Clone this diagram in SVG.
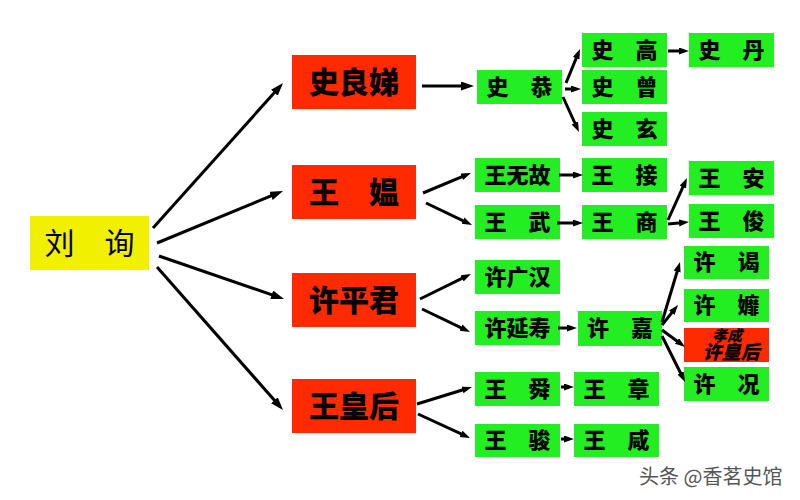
<svg xmlns="http://www.w3.org/2000/svg" width="800" height="500" viewBox="0 0 800 500">
<defs>
<style>
.root rect{fill:#F0F000}
.red rect{fill:#FF2A00}
.grn rect{fill:#22EE22}
text{font-family:"Noto Sans CJK SC","Noto Sans CJK JP",sans-serif;text-anchor:middle;fill:#000}
.root text{font-size:30px;font-weight:400}
.red text{font-size:30px;font-weight:900}
.grn text{font-size:22px;font-weight:900}
.conn line{stroke:#000;stroke-width:3;fill:none}
.big{marker-end:url(#ah)}
.sm{marker-end:url(#as)}
.wm{font-size:20px;fill:#555;font-weight:400;text-anchor:start}
</style>
<marker id="ah" markerUnits="userSpaceOnUse" markerWidth="14" markerHeight="10" refX="8" refY="4.5" orient="auto"><path d="M0,0 L13,4.5 L0,9 z" fill="#000"/></marker>
<marker id="as" markerUnits="userSpaceOnUse" markerWidth="11" markerHeight="8" refX="5" refY="3.5" orient="auto"><path d="M0,0 L10,3.5 L0,7 z" fill="#000"/></marker>
</defs>
<rect width="800" height="500" fill="#fff"/>

<g id="liuxun" class="root"><rect x="30" y="216" width="119" height="54"/><text x="89.5" y="254">刘　询</text></g>

<g id="shiliangdi" class="red"><rect x="292" y="55" width="124" height="54"/><text x="354" y="93">史良娣</text></g>
<g id="wangwen" class="red"><rect x="292" y="165" width="124" height="54"/><text x="354" y="203">王　媪</text></g>
<g id="xupingjun" class="red"><rect x="292" y="273" width="124" height="54"/><text x="354" y="311">许平君</text></g>
<g id="wanghuanghou" class="red"><rect x="292" y="379" width="124" height="54"/><text x="354" y="417">王皇后</text></g>

<g id="shigong" class="grn"><rect x="477" y="70" width="85" height="34"/><text x="519.5" y="95">史　恭</text></g>
<g id="shigao" class="grn"><rect x="582" y="33" width="85" height="34"/><text x="624.5" y="58">史　高</text></g>
<g id="shidan" class="grn"><rect x="689" y="33" width="85" height="34"/><text x="731.5" y="58">史　丹</text></g>
<g id="shizeng" class="grn"><rect x="582" y="70" width="85" height="34"/><text x="624.5" y="95">史　曾</text></g>
<g id="shixuan" class="grn"><rect x="582" y="112" width="85" height="34"/><text x="624.5" y="137">史　玄</text></g>

<g id="wangwugu" class="grn"><rect x="475" y="158" width="85" height="34"/><text x="517.5" y="183">王无故</text></g>
<g id="wangjie" class="grn"><rect x="582" y="158" width="85" height="34"/><text x="624.5" y="183">王　接</text></g>
<g id="wangan" class="grn"><rect x="689" y="161" width="85" height="34"/><text x="731.5" y="186">王　安</text></g>
<g id="wangwu" class="grn"><rect x="475" y="205" width="85" height="34"/><text x="517.5" y="230">王　武</text></g>
<g id="wangshang" class="grn"><rect x="582" y="205" width="85" height="34"/><text x="624.5" y="230">王　商</text></g>
<g id="wangjun" class="grn"><rect x="689" y="204" width="85" height="34"/><text x="731.5" y="229">王　俊</text></g>

<g id="xuguanghan" class="grn"><rect x="475" y="260" width="85" height="34"/><text x="517.5" y="285">许广汉</text></g>
<g id="xuyanshou" class="grn"><rect x="475" y="311" width="85" height="34"/><text x="517.5" y="336">许延寿</text></g>
<g id="xujia" class="grn"><rect x="578" y="311" width="84" height="35"/><text x="620" y="336">许　嘉</text></g>
<g id="xuye" class="grn"><rect x="684" y="246" width="85" height="33"/><text x="726.5" y="270">许　谒</text></g>
<g id="xumi" class="grn"><rect x="684" y="289" width="85" height="33"/><text x="726.5" y="313">许　孊</text></g>
<g id="xiaocheng" class="red"><rect x="684" y="328" width="85" height="34"/><text style="font-style:italic;font-weight:900"><tspan x="727" y="341" style="font-size:15px">孝成</tspan><tspan x="731" y="359" style="font-size:19px">许皇后</tspan></text></g>
<g id="xukuang" class="grn"><rect x="684" y="367" width="85" height="34"/><text x="726.5" y="392">许　况</text></g>

<g id="wangshun" class="grn"><rect x="475" y="372" width="85" height="34"/><text x="517.5" y="397">王　舜</text></g>
<g id="wangzhang" class="grn"><rect x="574" y="372" width="85" height="34"/><text x="616.5" y="397">王　章</text></g>
<g id="wangjun2" class="grn"><rect x="475" y="424" width="85" height="33"/><text x="517.5" y="448">王　骏</text></g>
<g id="wangxian" class="grn"><rect x="574" y="424" width="85" height="33"/><text x="616.5" y="448">王　咸</text></g>

<g id="connectors" class="conn">
<line class="big" x1="153" y1="228" x2="279.7" y2="86.7"/>
<line class="big" x1="157" y1="243" x2="278.4" y2="192.9"/>
<line class="big" x1="159" y1="256" x2="279.3" y2="297.4"/>
<line class="big" x1="157" y1="267" x2="279.7" y2="406.3"/>
<line class="big" x1="422" y1="86" x2="469" y2="86"/>
<line class="sm" x1="566" y1="83" x2="578.1" y2="53.6"/>
<line class="sm" x1="565" y1="89" x2="576" y2="89"/>
<line class="sm" x1="563" y1="97" x2="576.9" y2="127.5"/>
<line class="sm" x1="668" y1="51" x2="684" y2="51"/>
<line class="sm" x1="423" y1="193" x2="466.4" y2="174.9"/>
<line class="sm" x1="426" y1="203" x2="467.5" y2="222.8"/>
<line class="sm" x1="559" y1="175" x2="578" y2="175"/>
<line class="sm" x1="557" y1="223" x2="578" y2="223"/>
<line class="sm" x1="668" y1="220" x2="684.9" y2="182.6"/>
<line class="sm" x1="668" y1="224" x2="684" y2="222.5"/>
<line class="sm" x1="420" y1="299" x2="466.5" y2="276.2"/>
<line class="sm" x1="422" y1="309" x2="465.5" y2="329.8"/>
<line class="sm" x1="558" y1="328" x2="572" y2="328"/>
<line class="sm" x1="662" y1="322" x2="678.6" y2="266.8"/>
<line class="sm" x1="662" y1="325" x2="674.9" y2="308.9"/>
<line class="sm" x1="662" y1="330" x2="681" y2="344"/>
<line class="sm" x1="662" y1="336" x2="682.8" y2="377.5"/>
<line class="sm" x1="417" y1="404" x2="467.2" y2="388.5"/>
<line class="sm" x1="418" y1="414" x2="465.5" y2="435.9"/>
<line class="sm" x1="561" y1="387" x2="569" y2="387"/>
<line class="sm" x1="561" y1="439" x2="569" y2="439"/>
</g>

<text class="wm" x="639" y="484">头条 @香茗史馆</text>
</svg>
